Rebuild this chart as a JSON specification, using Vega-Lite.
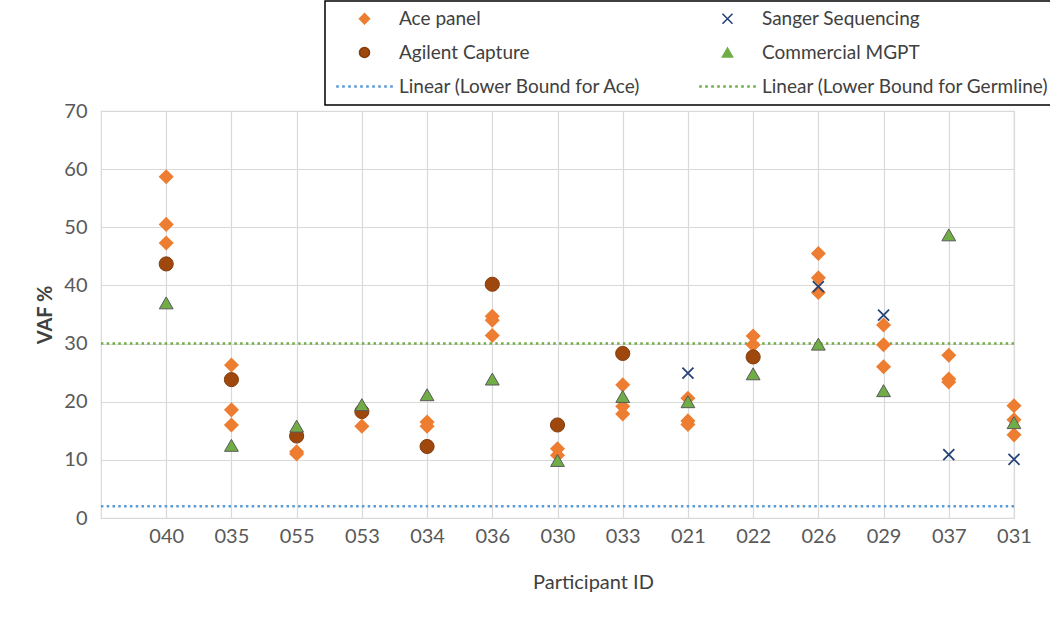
{
  "$schema": "https://vega.github.io/schema/vega-lite/v6.json",
  "width": 913,
  "height": 407,
  "autosize": {"type": "none"},
  "padding": {"left": 101, "top": 111, "right": 36, "bottom": 101},
  "background": "white",
  "datasets": {
    "points": [
      {"id": "040", "series": "Ace panel", "vaf": 58.7},
      {"id": "040", "series": "Ace panel", "vaf": 50.5},
      {"id": "040", "series": "Ace panel", "vaf": 47.3},
      {"id": "035", "series": "Ace panel", "vaf": 26.3},
      {"id": "035", "series": "Ace panel", "vaf": 18.6},
      {"id": "035", "series": "Ace panel", "vaf": 16.0},
      {"id": "055", "series": "Ace panel", "vaf": 11.4},
      {"id": "055", "series": "Ace panel", "vaf": 11.0},
      {"id": "053", "series": "Ace panel", "vaf": 15.8},
      {"id": "034", "series": "Ace panel", "vaf": 16.5},
      {"id": "034", "series": "Ace panel", "vaf": 15.8},
      {"id": "036", "series": "Ace panel", "vaf": 34.7},
      {"id": "036", "series": "Ace panel", "vaf": 34.0},
      {"id": "036", "series": "Ace panel", "vaf": 31.4},
      {"id": "030", "series": "Ace panel", "vaf": 11.9},
      {"id": "030", "series": "Ace panel", "vaf": 10.8},
      {"id": "033", "series": "Ace panel", "vaf": 22.9},
      {"id": "033", "series": "Ace panel", "vaf": 19.2},
      {"id": "033", "series": "Ace panel", "vaf": 17.9},
      {"id": "021", "series": "Ace panel", "vaf": 20.6},
      {"id": "021", "series": "Ace panel", "vaf": 16.7},
      {"id": "021", "series": "Ace panel", "vaf": 16.1},
      {"id": "022", "series": "Ace panel", "vaf": 31.3},
      {"id": "022", "series": "Ace panel", "vaf": 29.8},
      {"id": "026", "series": "Ace panel", "vaf": 45.5},
      {"id": "026", "series": "Ace panel", "vaf": 41.3},
      {"id": "026", "series": "Ace panel", "vaf": 38.8},
      {"id": "029", "series": "Ace panel", "vaf": 33.2},
      {"id": "029", "series": "Ace panel", "vaf": 29.8},
      {"id": "029", "series": "Ace panel", "vaf": 26.0},
      {"id": "037", "series": "Ace panel", "vaf": 28.0},
      {"id": "037", "series": "Ace panel", "vaf": 23.9},
      {"id": "037", "series": "Ace panel", "vaf": 23.4},
      {"id": "031", "series": "Ace panel", "vaf": 19.3},
      {"id": "031", "series": "Ace panel", "vaf": 16.9},
      {"id": "031", "series": "Ace panel", "vaf": 14.3},
      {"id": "040", "series": "Agilent Capture", "vaf": 43.7},
      {"id": "035", "series": "Agilent Capture", "vaf": 23.8},
      {"id": "055", "series": "Agilent Capture", "vaf": 14.1},
      {"id": "053", "series": "Agilent Capture", "vaf": 18.3},
      {"id": "034", "series": "Agilent Capture", "vaf": 12.3},
      {"id": "036", "series": "Agilent Capture", "vaf": 40.2},
      {"id": "030", "series": "Agilent Capture", "vaf": 16.0},
      {"id": "033", "series": "Agilent Capture", "vaf": 28.3},
      {"id": "022", "series": "Agilent Capture", "vaf": 27.7},
      {"id": "021", "series": "Sanger Sequencing", "vaf": 24.9},
      {"id": "026", "series": "Sanger Sequencing", "vaf": 39.8},
      {"id": "029", "series": "Sanger Sequencing", "vaf": 34.9},
      {"id": "037", "series": "Sanger Sequencing", "vaf": 10.9},
      {"id": "031", "series": "Sanger Sequencing", "vaf": 10.1},
      {"id": "040", "series": "Commercial MGPT", "vaf": 37.0},
      {"id": "035", "series": "Commercial MGPT", "vaf": 12.5},
      {"id": "055", "series": "Commercial MGPT", "vaf": 15.8},
      {"id": "053", "series": "Commercial MGPT", "vaf": 19.5},
      {"id": "034", "series": "Commercial MGPT", "vaf": 21.2},
      {"id": "036", "series": "Commercial MGPT", "vaf": 23.9},
      {"id": "030", "series": "Commercial MGPT", "vaf": 9.9},
      {"id": "033", "series": "Commercial MGPT", "vaf": 20.9},
      {"id": "021", "series": "Commercial MGPT", "vaf": 20.0},
      {"id": "022", "series": "Commercial MGPT", "vaf": 24.8},
      {"id": "026", "series": "Commercial MGPT", "vaf": 29.9},
      {"id": "029", "series": "Commercial MGPT", "vaf": 21.9},
      {"id": "037", "series": "Commercial MGPT", "vaf": 48.7},
      {"id": "031", "series": "Commercial MGPT", "vaf": 16.4}
    ],
    "lines": [
      {"series": "Linear (Lower Bound for Ace)", "vaf": 2},
      {"series": "Linear (Lower Bound for Germline)", "vaf": 30}
    ]
  },
  "layer": [
    {
      "data": {"name": "lines"},
      "transform": [{"filter": "datum.series === 'Linear (Lower Bound for Ace)'"}],
      "mark": {"type": "rule", "stroke": "#5B9BD5", "strokeWidth": 2.5, "strokeDash": [2.5, 3.3]},
      "encoding": {
        "y": {"field": "vaf", "type": "quantitative", "scale": {"domain": [0, 70], "nice": false},
              "axis": {"values": [0, 10, 20, 30, 40, 50, 60, 70], "title": "VAF %", "labelPadding": 14, "titlePadding": 8, "titleFontWeight": "bold"}}
      }
    },
    {
      "data": {"name": "lines"},
      "transform": [{"filter": "datum.series === 'Linear (Lower Bound for Germline)'"}],
      "mark": {"type": "rule", "stroke": "#70AD47", "strokeWidth": 2.5, "strokeDash": [2.5, 3.3]},
      "encoding": {
        "y": {"field": "vaf", "type": "quantitative"}
      }
    },
    {
      "data": {"name": "points"},
      "transform": [{"filter": "datum.series === 'Ace panel'"}],
      "mark": {"type": "point", "filled": true, "opacity": 1, "size": 150},
      "encoding": {
        "x": {"field": "id", "type": "nominal",
              "scale": {"type": "point", "domain": ["040","035","055","053","034","036","030","033","021","022","026","029","037","031"], "padding": 0.5, "align": 1},
              "axis": {"title": "Participant ID", "labelAngle": 0, "labelPadding": 8, "titlePadding": 26, "titleX": 492, "grid": true}},
        "y": {"field": "vaf", "type": "quantitative"},
        "fill": {"field": "series", "type": "nominal", "title": null,
                 "scale": {"domain": ["Ace panel", "Agilent Capture", "Linear (Lower Bound for Ace)", "Sanger Sequencing", "Commercial MGPT", "Linear (Lower Bound for Germline)"],
                           "range": ["#ED7D31", "#9E480E", "#5B9BD5", "#264478", "#70AD47", "#70AD47"]}},
        "stroke": {"field": "series", "type": "nominal", "title": null,
                   "scale": {"domain": ["Ace panel", "Agilent Capture", "Linear (Lower Bound for Ace)", "Sanger Sequencing", "Commercial MGPT", "Linear (Lower Bound for Germline)"],
                             "range": ["#ED7D31", "#843C0C", "#5B9BD5", "#264478", "#70AD47", "#70AD47"]}},
        "shape": {"field": "series", "type": "nominal", "title": null,
                  "scale": {"domain": ["Ace panel", "Agilent Capture", "Linear (Lower Bound for Ace)", "Sanger Sequencing", "Commercial MGPT", "Linear (Lower Bound for Germline)"],
                            "range": ["diamond", "circle",
                                      "M-5.5,-0.1h0.2v0.2h-0.2z M-4.3,-0.1h0.2v0.2h-0.2z M-3.1,-0.1h0.2v0.2h-0.2z M-1.9,-0.1h0.2v0.2h-0.2z M-0.7,-0.1h0.2v0.2h-0.2z M0.5,-0.1h0.2v0.2h-0.2z M1.7,-0.1h0.2v0.2h-0.2z M2.9,-0.1h0.2v0.2h-0.2z M4.1,-0.1h0.2v0.2h-0.2z M5.3,-0.1h0.2v0.2h-0.2z",
                                      "M-1,-1L1,1M-1,1L1,-1", "triangle-up",
                                      "M-5.5,-0.1h0.2v0.2h-0.2z M-4.3,-0.1h0.2v0.2h-0.2z M-3.1,-0.1h0.2v0.2h-0.2z M-1.9,-0.1h0.2v0.2h-0.2z M-0.7,-0.1h0.2v0.2h-0.2z M0.5,-0.1h0.2v0.2h-0.2z M1.7,-0.1h0.2v0.2h-0.2z M2.9,-0.1h0.2v0.2h-0.2z M4.1,-0.1h0.2v0.2h-0.2z M5.3,-0.1h0.2v0.2h-0.2z"]}}
      }
    },
    {
      "data": {"name": "points"},
      "transform": [{"filter": "datum.series === 'Agilent Capture'"}],
      "mark": {"type": "point", "filled": true, "opacity": 1, "size": 200, "strokeWidth": 1},
      "encoding": {
        "x": {"field": "id", "type": "nominal"},
        "y": {"field": "vaf", "type": "quantitative"},
        "fill": {"field": "series", "type": "nominal", "title": null},
        "stroke": {"field": "series", "type": "nominal", "title": null},
        "shape": {"field": "series", "type": "nominal", "title": null}
      }
    },
    {
      "data": {"name": "points"},
      "transform": [{"filter": "datum.series === 'Sanger Sequencing'"}],
      "mark": {"type": "point", "filled": true, "opacity": 1, "size": 121, "strokeWidth": 1.8},
      "encoding": {
        "x": {"field": "id", "type": "nominal"},
        "y": {"field": "vaf", "type": "quantitative"},
        "fill": {"field": "series", "type": "nominal", "title": null},
        "stroke": {"field": "series", "type": "nominal", "title": null},
        "shape": {"field": "series", "type": "nominal", "title": null}
      }
    },
    {
      "data": {"name": "points"},
      "transform": [{"filter": "datum.series === 'Commercial MGPT'"}],
      "mark": {"type": "point", "filled": true, "opacity": 1, "size": 190, "strokeWidth": 1, "stroke": "#595959"},
      "encoding": {
        "x": {"field": "id", "type": "nominal"},
        "y": {"field": "vaf", "type": "quantitative"},
        "fill": {"field": "series", "type": "nominal", "title": null},
        "shape": {"field": "series", "type": "nominal", "title": null}
      }
    }
  ],
  "config": {
    "font": "Lato",
    "view": {"stroke": "#d9d9d9", "strokeWidth": 1.2},
    "axis": {
      "gridColor": "#d9d9d9", "gridWidth": 1.2, "domain": false, "ticks": false, "tickSize": 0,
      "labelFont": "Lato", "labelFontSize": 20, "labelColor": "#595959",
      "titleFont": "Lato", "titleFontSize": 20, "titleColor": "#404040", "titleFontWeight": "normal"
    },
    "legend": {
      "orient": "none", "legendX": 224, "legendY": -110,
      "columns": 2, "gridAlign": "each", "columnPadding": 54, "rowPadding": 14,
      "padding": 8, "strokeColor": "#000000", "strokeWidth": 1.5, "fillColor": "white",
      "labelFont": "Lato", "labelFontSize": 19, "labelColor": "#404040",
      "symbolSize": 100, "symbolStrokeWidth": 1.6, "symbolOffset": 22, "labelOffset": 25, "labelLimit": 400
    }
  }
}
